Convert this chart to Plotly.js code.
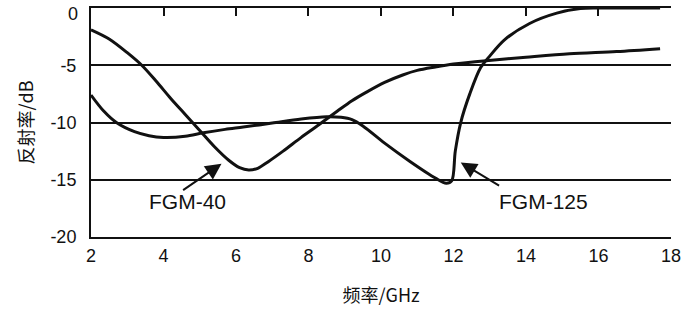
<!DOCTYPE html>
<html>
<head>
<meta charset="utf-8">
<script src="https://cdn.plot.ly/plotly-3.0.1.min.js"></script>
<style>html,body{margin:0;padding:0;background:#fff;}#chart{width:700px;height:312px;}</style>
</head>
<body>
<div id="chart"></div>
<script>
// Frequency (GHz) and reflectivity (dB)
const fgm40X = [2.0, 2.5, 3.0, 3.4, 3.8, 4.2, 4.6, 5.0, 5.4, 5.8, 6.1, 6.35, 6.6, 6.9, 7.3, 7.8, 8.2, 8.8, 9.2, 9.6, 10.1, 10.6, 11.0, 11.5, 12.0, 12.9, 14.0, 15.2, 16.5, 17.7];
const fgm40Y = [-1.9, -2.7, -3.9, -5.0, -6.4, -7.9, -9.3, -10.7, -12.1, -13.3, -13.95, -14.15, -14.0, -13.4, -12.5, -11.3, -10.4, -9.0, -8.1, -7.35, -6.5, -5.85, -5.45, -5.15, -4.9, -4.6, -4.3, -4.0, -3.8, -3.55];

const fgm125X = [2.0, 2.35, 2.7, 3.2, 3.6, 4.0, 4.6, 5.1, 5.7, 6.2, 7.0, 7.8, 8.5, 8.9, 9.2, 9.5, 10.1, 10.8, 11.5, 11.8, 11.95, 12.05, 12.2, 12.45, 12.75, 13.0, 13.4, 14.1, 14.85, 15.5, 16.0, 17.7];
const fgm125Y = [-7.6, -9.0, -10.0, -10.8, -11.15, -11.3, -11.2, -10.9, -10.6, -10.4, -10.05, -9.7, -9.5, -9.55, -9.75, -10.3, -11.8, -13.4, -14.85, -15.3, -15.1, -12.5, -10.0, -7.5, -5.2, -4.2, -2.8, -1.35, -0.45, -0.05, 0, 0];

const xTicks = [2, 4, 6, 8, 10, 12, 14, 16, 18];
const yTicks = [0, -5, -10, -15, -20];
const seriesNames = ['FGM-40', 'FGM-125'];
const xTitle = '频率/GHz';
const yTitle = '反射率/dB';

const lineStyle = {color: '#111', width: 3, shape: 'spline', smoothing: 0.9};

const traces = [
  {x: fgm40X, y: fgm40Y, type: 'scatter', mode: 'lines', name: seriesNames[0], line: lineStyle, hoverinfo: 'skip'},
  {x: fgm125X, y: fgm125Y, type: 'scatter', mode: 'lines', name: seriesNames[1], line: lineStyle, hoverinfo: 'skip'},
  {x: [2, 18], y: [null, null], xaxis: 'x2', type: 'scatter', mode: 'lines', showlegend: false, hoverinfo: 'skip'}
];

const tickFont = {family: 'Liberation Sans, Arial, sans-serif', size: 18, color: '#111'};
const titleFont = {family: 'Noto Sans CJK SC, sans-serif', size: 18, color: '#111'};

// the top label (0) sits just below the top edge in the reference, so it is drawn as an annotation
const yTickText = yTicks.map((v, i) => i === 0 ? '' : String(v));

const layout = {
  width: 700, height: 312,
  margin: {l: 91, r: 29, t: 8, b: 75},
  paper_bgcolor: '#fff', plot_bgcolor: '#fff',
  showlegend: false,
  xaxis: {
    range: [2, 18.001], tickvals: xTicks, ticktext: xTicks.map(String),
    showgrid: false, zeroline: false, showline: true, linecolor: '#111', linewidth: 2,
    ticks: '', tickfont: tickFont, ticklabelstandoff: 1, ticklabeloverflow: 'allow',
    title: {text: xTitle, font: titleFont, standoff: 25}
  },
  xaxis2: {
    overlaying: 'x', side: 'top', anchor: 'y', range: [2, 18.001], tickvals: xTicks.slice(1, 8),
    showgrid: false, zeroline: false, showline: true, linecolor: '#111', linewidth: 2,
    ticks: 'inside', ticklen: 8, tickwidth: 2, tickcolor: '#111', showticklabels: false
  },
  yaxis: {
    range: [-20, 0.001], tickvals: yTicks, ticktext: yTickText,
    showgrid: true, gridcolor: '#111', gridwidth: 2, zeroline: false,
    showline: true, linecolor: '#111', linewidth: 2,
    ticks: '', tickfont: tickFont, ticklabelstandoff: 9, ticklabeloverflow: 'allow',
    title: {text: yTitle, font: titleFont, standoff: 12}
  },
  annotations: [
    {x: 0, y: yTicks[0], xref: 'paper', yref: 'y', text: String(yTicks[0]), showarrow: false, xanchor: 'right', yanchor: 'middle', xshift: -11, yshift: -6, font: tickFont},
    {x: 5.6, y: -13.6, ax: 4.5, ay: -16.0, xref: 'x', yref: 'y', axref: 'x', ayref: 'y', text: '', showarrow: true, arrowhead: 2, arrowsize: 1.6, arrowwidth: 2, arrowcolor: '#111'},
    {x: 12.2, y: -13.5, ax: 13.3, ay: -15.6, xref: 'x', yref: 'y', axref: 'x', ayref: 'y', text: '', showarrow: true, arrowhead: 2, arrowsize: 1.6, arrowwidth: 2, arrowcolor: '#111'},
    {x: 4.66, y: -16.9, xref: 'x', yref: 'y', text: seriesNames[0], showarrow: false, font: {family: 'Liberation Sans, Arial, sans-serif', size: 21, color: '#111'}},
    {x: 14.47, y: -16.9, xref: 'x', yref: 'y', text: seriesNames[1], showarrow: false, font: {family: 'Liberation Sans, Arial, sans-serif', size: 21, color: '#111'}}
  ]
};

Plotly.newPlot('chart', traces, layout, {displayModeBar: false, staticPlot: true});
</script>
</body>
</html>
